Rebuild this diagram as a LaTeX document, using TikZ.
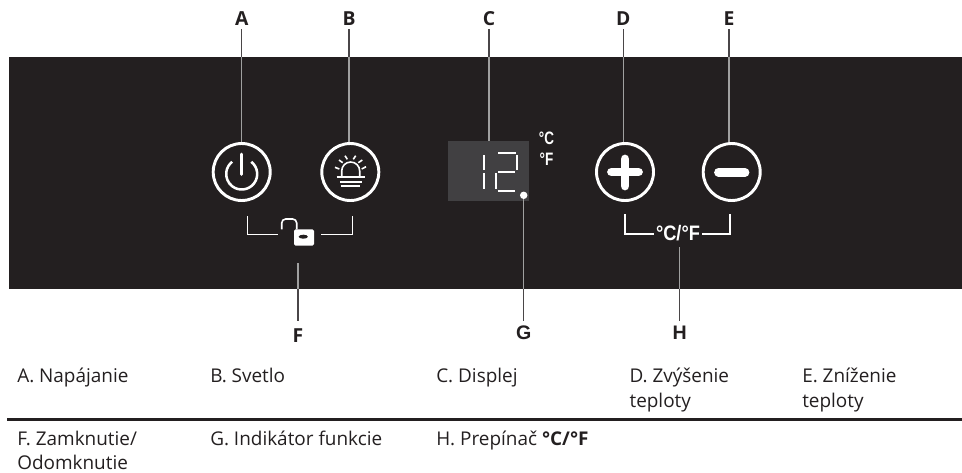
\documentclass[tikz,border=0pt]{standalone}
\usepackage{fontspec}
\setmainfont{Open Sans}
\newfontfamily\unitfont{Liberation Sans}
\usetikzlibrary{calc}
\definecolor{panelc}{HTML}{231F20}
\definecolor{leaderin}{HTML}{A0A0A0}
\definecolor{leaderout}{HTML}{4A4648}
\definecolor{lcd}{HTML}{414042}
\tikzset{
 x=0.75pt,y=-0.75pt,
 letter/.style={font=\fontsize{14.5}{14.5}\selectfont\bfseries,text=panelc,inner sep=0pt,anchor=center},
 letterb/.style={font=\unitfont\bfseries\fontsize{14.7}{15}\selectfont,text=panelc,inner sep=0pt,anchor=center},
 leaderline/.style={draw=leaderin,line width=1.1pt},
 leaderdark/.style={draw=leaderout,line width=1.1pt},
 ring/.style={draw=white,line width=2.2pt,circle,minimum size=42.75pt,inner sep=0pt},
 sym/.style={draw=white,line width=1.2pt},
 thinl/.style={draw=white,line width=0.85pt},
 seg/.style={draw=white,line width=1.4pt},
 heavy/.style={draw=white,line width=6.6pt,line cap=round},
 unit/.style={font=\unitfont\bfseries\fontsize{13.5}{14}\selectfont,text=white,inner sep=0pt,xscale=.75},
 unitb/.style={font=\unitfont\bfseries\fontsize{15.7}{16}\selectfont,text=white,inner sep=0pt,xscale=.87},
 cell/.style={font=\fontsize{14.2}{18.4}\selectfont,text=panelc,anchor=base west,inner sep=0pt,align=left},
}
\begin{document}
\begin{tikzpicture}
\useasboundingbox (0,0) rectangle (962,472);
\node[fill=panelc,minimum width=953*0.75pt,minimum height=232*0.75pt,inner sep=0pt,outer sep=0pt] (panel) at (485.5,172.7) {};
% labels
\node[letter] (A) at (241.7,19) {A};
\node[letter] (B) at (349,19) {B};
\node[letter] (C) at (489,19) {C};
\node[letter] (D) at (623.3,19) {D};
\node[letter] (E) at (729,19) {E};
\node[letter] (F) at (298,336) {F};
\node[letterb] (G) at (523.7,332.7) {G};
\node[letterb] (H) at (679.7,332.7) {H};
% circles
\node[ring] (pw) at (241.7,172) {};
\node[ring] (lt) at (350.3,172) {};
\node[ring] (pl) at (625,172) {};
\node[ring] (mi) at (731.7,172) {};
% display
\node[fill=lcd,minimum width=60.75pt,minimum height=45pt,inner sep=0pt] (disp) at (488.5,171) {};
\node[circle,fill=white,minimum size=5.6pt,inner sep=0pt] (dotn) at (523.7,195.3) {};
% leaders
\foreach \l/\t in {A/pw,B/lt,C/disp,D/pl,E/mi}{
 \draw[leaderdark] ($(\l)+(0,10)$) -- (\l |- panel.north);
 \draw[leaderline] (\l |- panel.north) -- (\l |- \t.north);
}
\coordinate (ftop) at (298,263);
\coordinate (gtop) at (523.7,199);
\coordinate (htop) at (679.7,247);
\coordinate (lowend) at (0,321);
\foreach \l/\t in {F/ftop,G/gtop,H/htop}{
 \draw[leaderline] (\t) -- (\l |- panel.south);
 \draw[leaderdark] (\l |- panel.south) -- (\l |- lowend);
}
% power symbol
\draw[sym,line width=1.9pt,line cap=round] (241.7,154) -- (241.7,174.5);
\draw[sym,line width=1.9pt] ($(241.7,174)+(-52:15.5)$) arc[start angle=-52,end angle=232,radius=15.5];
% alarm light
\draw[sym] (341.7,176.5) -- (341.7,171) arc[start angle=180,end angle=360,radius=9] -- (359.7,176.5);
\draw[sym,line width=1.3pt] (336.7,177) -- (365,177);
\draw[sym,line width=1.3pt] (340,182) -- (361.7,182);
\draw[sym,line width=1.3pt] (340.7,186.3) -- (360,186.3);
\foreach \xa/\ya/\xb/\yb in {335/167.3/339.3/169,339/160/342.7/162.7,345/155.7/347.3/159.3,355.7/155.7/353.3/159.3,362.3/160/358.3/162.7,366/166.7/361.7/169}{
 \draw[sym] (\xa,\ya) -- (\xb,\yb);
}
% lock bracket
\draw[thinl] (247.3,216) -- (247.3,234.3) -- (278.3,234.3);
\draw[thinl] (352.7,216) -- (352.7,234.3) -- (320.7,234.3);
\draw[sym] (281.7,229.3) -- (281.7,223) arc[start angle=180,end angle=270,radius=4] -- (292.7,219) arc[start angle=270,end angle=360,radius=4] -- (296.7,229.3);
\fill[white,rounded corners=1.2] (294,229.3) rectangle (314,245.7);
\fill[panelc] (303.3,236.7) ellipse[x radius=4.6,y radius=2];
% display digits
\draw[seg] (484.3,155) -- (484.3,170);
\draw[seg] (484.3,173.3) -- (484.3,189.3);
\draw[seg] (498.3,153.3) -- (516,153.3);
\draw[seg] (517.3,155) -- (517.3,170);
\draw[seg] (498.3,171.7) -- (515,171.7);
\draw[seg] (495.7,173.3) -- (495.7,189.3);
\draw[seg] (497.7,190.7) -- (515,190.7);
% unit marks
\node[unit] (cc) at (546.5,138) {°C};
\node[unit] (ff) at (546.5,159) {°F};
% plus, minus
\draw[heavy] (611.5,172) -- (638.5,172);
\draw[heavy] (625,159) -- (625,186);
\draw[heavy] (718.5,172.3) -- (745,172.3);
% cf bracket
\draw[thinl] (625,214.3) -- (625,234) -- (654,234);
\draw[thinl] (730,214.3) -- (730,234) -- (702.3,234);
\node[unitb] (cf) at (678,232.7) {°C/°F};
% table
\node[cell] (t1) at (17,382.7) {A. Napájanie};
\node[cell] (t2) at (210,382.7) {B. Svetlo};
\node[cell] (t3) at (436,382.7) {C. Displej};
\node[cell] (t4) at (629.3,407.2) {D. Zvýšenie\\teploty};
\node[cell] (t5) at (802,407.2) {E. Zníženie\\teploty};
\coordinate (rl) at (7,419.7);
\coordinate (rr) at (962,419.7);
\draw[panelc,line width=1.9pt] (rl) -- (rr);
\node[cell] (t6) at (17,469.8) {F. Zamknutie/\\Odomknutie};
\node[cell] (t7) at (210,445.3) {G. Indikátor funkcie};
\node[cell] (t8) at (436,445.3) {H. Prepínač \textbf{°C/°F}};
\end{tikzpicture}
\end{document}
